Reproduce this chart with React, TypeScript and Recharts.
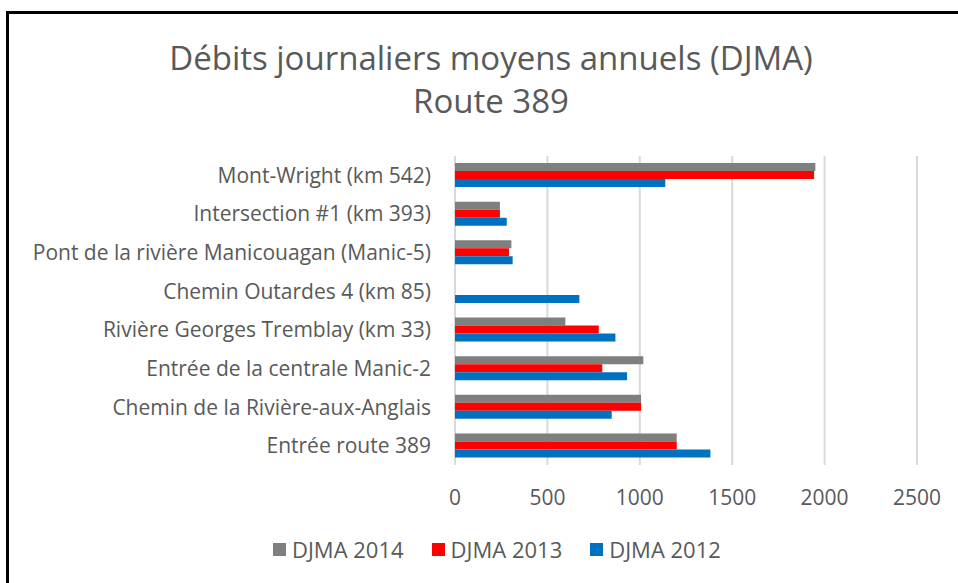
import * as React from "react";
import { BarChart, Bar, XAxis, YAxis, CartesianGrid } from "recharts";

const categories = [
  "Mont-Wright (km 542)",
  "Intersection #1 (km 393)",
  "Pont de la rivière Manicouagan (Manic-5)",
  "Chemin Outardes 4 (km 85)",
  "Rivière Georges Tremblay (km 33)",
  "Entrée de la centrale Manic-2",
  "Chemin de la Rivière-aux-Anglais",
  "Entrée route 389",
];
const djma2014 = [1950, 243, 305, 0, 597, 1019, 1007, 1200];
const djma2013 = [1943, 243, 292, 0, 778, 797, 1007, 1200];
const djma2012 = [1138, 280, 312, 673, 868, 931, 848, 1382];
const xTicks = [0, 500, 1000, 1500, 2000, 2500];

const series = [
  { key: "d2014", name: "DJMA 2014", color: "#7f7f7f" },
  { key: "d2013", name: "DJMA 2013", color: "#ff0000" },
  { key: "d2012", name: "DJMA 2012", color: "#0070c0" },
];

const FONT = "'Open Sans', Lato, sans-serif";
const TEXT = "#595959";

export default function App() {
  const data = categories.map((name, i) => ({
    name,
    d2014: djma2014[i],
    d2013: djma2013[i],
    d2012: djma2012[i],
  }));

  return (
    <div
      style={{
        position: "fixed",
        left: 0,
        top: 0,
        width: 958,
        height: 583,
        background: "#fff",
        fontFamily: FONT,
        overflow: "hidden",
      }}
    >
      <div
        style={{
          position: "absolute",
          left: 6,
          top: 11,
          width: 960,
          height: 580,
          borderLeft: "3px solid #000",
          borderTop: "3px solid #000",
        }}
      />
      <div
        style={{
          position: "absolute",
          left: 0,
          width: 982,
          top: 36,
          textAlign: "center",
          fontSize: 33,
          lineHeight: "43px",
          color: TEXT,
        }}
      >
        <div>Débits journaliers moyens annuels (DJMA)</div>
        <div>Route 389</div>
      </div>
      <BarChart
        width={958}
        height={583}
        data={data}
        layout="vertical"
        margin={{ top: 156, right: 41, left: 0, bottom: 88 }}
        barSize={8}
        barGap={0}
        style={{ position: "absolute", left: 0, top: 0 }}
      >
        <CartesianGrid horizontal={false} stroke="#d9d9d9" strokeWidth={2} />
        <XAxis
          type="number"
          domain={[0, 2500]}
          ticks={xTicks}
          axisLine={false}
          tickLine={false}
          tickSize={0}
          tickMargin={25}
          height={30}
          tick={{ fill: TEXT, fontSize: 21, fontFamily: FONT }}
        />
        <YAxis
          type="category"
          dataKey="name"
          width={455}
          axisLine={false}
          tickLine={false}
          tickSize={0}
          tickMargin={24}
          interval={0}
          tick={{ fill: TEXT, fontSize: 21, fontFamily: FONT }}
        />
        {series.map((s) => (
          <Bar
            key={s.key}
            dataKey={s.key}
            name={s.name}
            fill={s.color}
            isAnimationActive={false}
          />
        ))}
      </BarChart>
      <div
        style={{
          position: "absolute",
          left: 273,
          top: 535,
          display: "flex",
          gap: 28,
          fontSize: 22,
          lineHeight: "28px",
          color: TEXT,
        }}
      >
        {series.map((s) => (
          <div key={s.key} style={{ display: "flex", alignItems: "center" }}>
            <span
              style={{
                display: "inline-block",
                width: 13,
                height: 13,
                background: s.color,
                marginRight: 6,
              }}
            />
            <span>{s.name}</span>
          </div>
        ))}
      </div>
    </div>
  );
}
